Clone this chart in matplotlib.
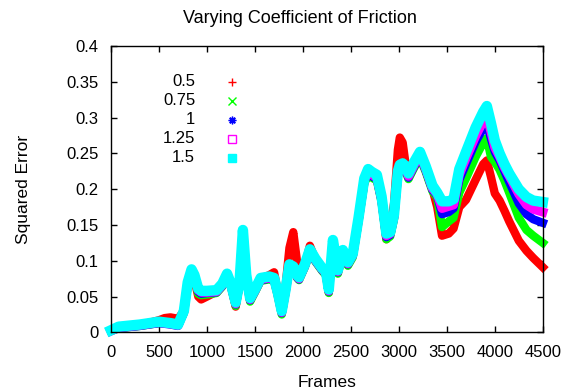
import matplotlib
matplotlib.use("Agg")
import matplotlib.pyplot as plt

plt.rcParams["font.family"] = ["Liberation Sans", "DejaVu Sans"]

# frame numbers shared by all runs
frames = [0, 80, 300, 500, 560, 620, 700, 760, 800, 840,
          870, 910, 940, 1000, 1100, 1160, 1210, 1250, 1300, 1340,
          1375, 1410, 1450, 1500, 1560, 1650, 1700, 1740, 1780, 1820,
          1860, 1900, 1940, 1960, 2020, 2073, 2130, 2200, 2240, 2270,
          2313, 2365, 2417, 2469, 2520, 2580, 2640, 2680, 2720, 2771,
          2820, 2870, 2910, 2950, 2990, 3010, 3040, 3070, 3100, 3160,
          3220, 3280, 3350, 3400, 3450, 3520, 3570, 3630, 3700, 3800,
          3880, 3917, 3960, 4000, 4050, 4100, 4150, 4250, 4330, 4400,
          4500]

# squared error for each coefficient of friction
err_05 = [0.002, 0.007, 0.010, 0.017, 0.020, 0.021, 0.019, 0.030, 0.064, 0.083,
          0.074, 0.050, 0.046, 0.050, 0.057, 0.066, 0.080, 0.066, 0.036, 0.068,
          0.140, 0.077, 0.045, 0.058, 0.075, 0.080, 0.084, 0.056, 0.028, 0.065,
          0.118, 0.140, 0.098, 0.080, 0.093, 0.121, 0.102, 0.089, 0.082, 0.056,
          0.126, 0.085, 0.113, 0.096, 0.108, 0.157, 0.211, 0.223, 0.219, 0.215,
          0.185, 0.130, 0.145, 0.180, 0.255, 0.272, 0.265, 0.235, 0.220, 0.236,
          0.248, 0.226, 0.200, 0.175, 0.135, 0.138, 0.145, 0.175, 0.185, 0.213,
          0.235, 0.240, 0.217, 0.194, 0.184, 0.170, 0.155, 0.128, 0.114, 0.104,
          0.091]
err_075 = [0.002, 0.006, 0.009, 0.013, 0.013, 0.012, 0.010, 0.027, 0.066, 0.084,
           0.076, 0.054, 0.052, 0.053, 0.055, 0.064, 0.078, 0.064, 0.037, 0.066,
           0.138, 0.076, 0.043, 0.056, 0.072, 0.074, 0.072, 0.050, 0.025, 0.056,
           0.091, 0.088, 0.076, 0.073, 0.091, 0.112, 0.099, 0.086, 0.080, 0.055,
           0.124, 0.082, 0.110, 0.093, 0.105, 0.155, 0.208, 0.220, 0.216, 0.212,
           0.182, 0.130, 0.134, 0.158, 0.218, 0.227, 0.229, 0.225, 0.214, 0.230,
           0.244, 0.224, 0.197, 0.188, 0.147, 0.155, 0.160, 0.195, 0.215, 0.245,
           0.265, 0.271, 0.245, 0.238, 0.227, 0.212, 0.195, 0.160, 0.143, 0.135,
           0.125]
err_1 = [0.002, 0.006, 0.009, 0.013, 0.012, 0.011, 0.009, 0.028, 0.067, 0.085,
         0.077, 0.057, 0.054, 0.055, 0.056, 0.065, 0.079, 0.065, 0.039, 0.067,
         0.139, 0.077, 0.045, 0.057, 0.073, 0.075, 0.073, 0.052, 0.027, 0.057,
         0.092, 0.089, 0.077, 0.074, 0.092, 0.113, 0.100, 0.087, 0.082, 0.057,
         0.125, 0.084, 0.112, 0.095, 0.107, 0.157, 0.210, 0.222, 0.218, 0.214,
         0.184, 0.133, 0.136, 0.160, 0.220, 0.229, 0.231, 0.227, 0.216, 0.232,
         0.246, 0.226, 0.199, 0.191, 0.165, 0.168, 0.173, 0.213, 0.235, 0.266,
         0.285, 0.292, 0.270, 0.252, 0.240, 0.225, 0.210, 0.180, 0.165, 0.158,
         0.153]
err_125 = [0.002, 0.007, 0.010, 0.014, 0.013, 0.012, 0.010, 0.029, 0.068, 0.086,
           0.078, 0.059, 0.056, 0.056, 0.057, 0.066, 0.080, 0.066, 0.040, 0.068,
           0.140, 0.078, 0.046, 0.058, 0.074, 0.076, 0.074, 0.053, 0.028, 0.058,
           0.093, 0.090, 0.078, 0.075, 0.093, 0.114, 0.101, 0.088, 0.083, 0.058,
           0.126, 0.085, 0.113, 0.096, 0.108, 0.158, 0.212, 0.224, 0.220, 0.216,
           0.186, 0.135, 0.138, 0.162, 0.222, 0.231, 0.233, 0.229, 0.218, 0.234,
           0.248, 0.228, 0.201, 0.193, 0.173, 0.176, 0.178, 0.220, 0.243, 0.274,
           0.295, 0.302, 0.280, 0.258, 0.245, 0.230, 0.218, 0.193, 0.178, 0.172,
           0.168]
err_15 = [0.003, 0.008, 0.011, 0.015, 0.014, 0.013, 0.011, 0.030, 0.070, 0.088,
          0.080, 0.061, 0.058, 0.058, 0.059, 0.068, 0.082, 0.068, 0.042, 0.070,
          0.143, 0.080, 0.048, 0.060, 0.076, 0.078, 0.076, 0.055, 0.030, 0.060,
          0.095, 0.092, 0.080, 0.077, 0.095, 0.116, 0.103, 0.090, 0.085, 0.060,
          0.129, 0.087, 0.115, 0.098, 0.110, 0.160, 0.215, 0.228, 0.224, 0.220,
          0.190, 0.138, 0.140, 0.165, 0.225, 0.234, 0.236, 0.232, 0.222, 0.238,
          0.252, 0.232, 0.205, 0.195, 0.183, 0.183, 0.186, 0.228, 0.252, 0.286,
          0.308, 0.316, 0.292, 0.268, 0.250, 0.235, 0.222, 0.200, 0.189, 0.184,
          0.182]

labels = ["0.5", "0.75", "1", "1.25", "1.5"]
series = [err_05, err_075, err_1, err_125, err_15]
colors = ["#ff0000", "#00ff00", "#0000ff", "#ff00ff", "#00ffff"]
markers = ["+", "x", (8, 2, 0), "s", "s"]
widths = [6, 6, 6, 6.5, 7.5]

fig = plt.figure(figsize=(5.66, 3.92), dpi=100)
ax = fig.add_axes([0.196, 0.152, 0.763, 0.731])

for ys, c, w in zip(series, colors, widths):
    ax.plot(frames, ys, color=c, lw=w, solid_joinstyle="round", clip_on=False)

# gnuplot-style key: label on the left, point sample on the right
for i, (lab, c, m) in enumerate(zip(labels, colors, markers)):
    y = 0.874 - i * 0.066
    ax.text(0.195, y, lab, transform=ax.transAxes, ha="right", va="center", fontsize=12)
    face = "none" if i == 3 else c
    ax.plot([0.28], [y], transform=ax.transAxes, marker=m, color=c,
            markerfacecolor=face, markersize=5.5, mew=1, ls="none")

ax.set_xlim(0, 4500)
ax.set_ylim(0, 0.4)
ax.set_xticks(range(0, 4501, 500))
ax.set_yticks([0, 0.05, 0.1, 0.15, 0.2, 0.25, 0.3, 0.35, 0.4])
ax.set_yticklabels(["0", "0.05", "0.1", "0.15", "0.2", "0.25", "0.3", "0.35", "0.4"])
ax.tick_params(direction="in", length=4, width=1, top=True, right=True,
               labelsize=12, pad=9)
for s in ax.spines.values():
    s.set_linewidth(1)

ax.set_xlabel("Frames", fontsize=12.5, labelpad=11)
ax.set_ylabel("Squared Error", fontsize=12.5, labelpad=25)
fig.text(0.53, 0.954, "Varying Coefficient of Friction", ha="center", va="center", fontsize=13)

fig.savefig("out.png", dpi=100)
